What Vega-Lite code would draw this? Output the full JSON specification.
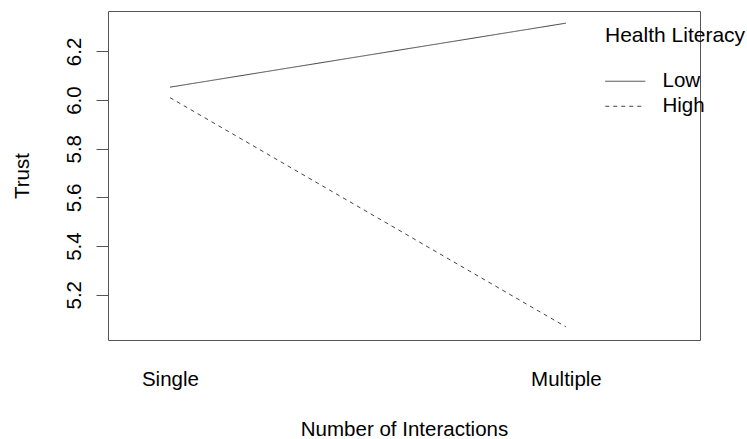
{
  "$schema": "https://vega.github.io/schema/vega-lite/v6.json",
  "width": 592,
  "height": 329,
  "autosize": {"type": "none"},
  "padding": {"left": 108, "top": 11, "right": 47, "bottom": 99},
  "background": "white",
  "config": {
    "font": "Liberation Sans",
    "view": {"stroke": "#555", "strokeWidth": 1}
  },
  "data": {
    "values": [
      {"Interactions": "Single", "Health Literacy": "Low", "Trust": 6.053},
      {"Interactions": "Multiple", "Health Literacy": "Low", "Trust": 6.316},
      {"Interactions": "Single", "Health Literacy": "High", "Trust": 6.01},
      {"Interactions": "Multiple", "Health Literacy": "High", "Trust": 5.068}
    ]
  },
  "mark": {"type": "line", "color": "#444", "strokeWidth": 1},
  "encoding": {
    "x": {
      "field": "Interactions",
      "type": "nominal",
      "sort": ["Single", "Multiple"],
      "scale": {"type": "point", "padding": 0.2475, "align": 0.316},
      "axis": {
        "title": "Number of Interactions",
        "titleFontSize": 20.5,
        "titleFontWeight": "normal",
        "titleColor": "#000",
        "titlePadding": 30,
        "labelFontSize": 20.5,
        "labelColor": "#000",
        "labelAngle": 0,
        "labelPadding": 29,
        "ticks": false,
        "domain": false,
        "grid": false
      }
    },
    "y": {
      "field": "Trust",
      "type": "quantitative",
      "scale": {"domain": [5.014, 6.366], "nice": false, "zero": false},
      "axis": {
        "title": "Trust",
        "titleFontSize": 20.5,
        "titleFontWeight": "normal",
        "titleColor": "#000",
        "titlePadding": 32,
        "values": [5.2, 5.4, 5.6, 5.8, 6.0, 6.2],
        "format": ".1f",
        "labelFontSize": 20.5,
        "labelColor": "#000",
        "labelAngle": -90,
        "labelAlign": "center",
        "labelBaseline": "bottom",
        "labelPadding": 12,
        "tickSize": 12,
        "tickColor": "#555",
        "domain": false,
        "grid": false
      }
    },
    "strokeDash": {
      "field": "Health Literacy",
      "type": "nominal",
      "sort": ["Low", "High"],
      "scale": {"domain": ["Low", "High"], "range": [[1, 0], [4, 4]]},
      "legend": {
        "orient": "none",
        "legendX": 497,
        "legendY": 14,
        "title": "Health Literacy",
        "titleFontSize": 21,
        "titleFontWeight": "normal",
        "titleColor": "#000",
        "titlePadding": 25,
        "labelFontSize": 20.5,
        "labelColor": "#000",
        "labelOffset": 37,
        "symbolType": "M-2,0H6",
        "symbolSize": 100,
        "symbolStrokeWidth": 1,
        "symbolStrokeColor": "#444",
        "rowPadding": 4
      }
    }
  }
}
